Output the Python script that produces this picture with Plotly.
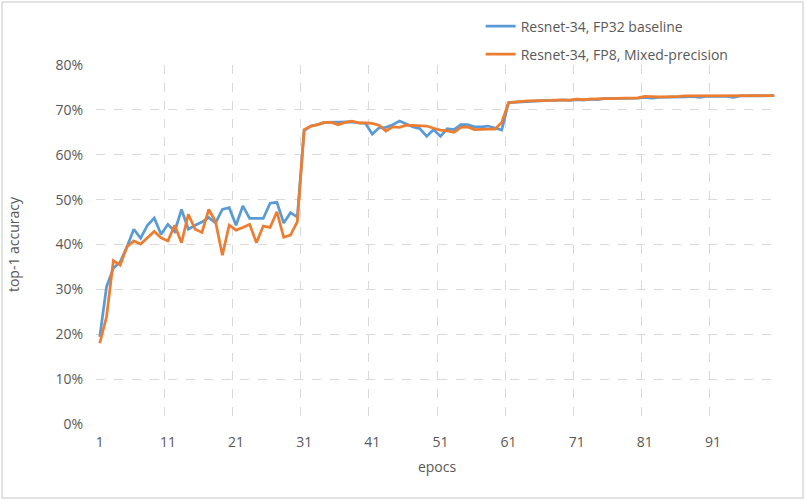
import plotly.graph_objects as go

# =============================================================================
# DATA
# =============================================================================

epochs = list(range(1, 101))
tick_epochs = [1, 11, 21, 31, 41, 51, 61, 71, 81, 91]
grid_epochs = [0.5, 10.5, 20.5, 30.5, 40.5, 50.5, 60.5, 70.5, 80.5, 90.5, 100.5]
y_ticks = [0, 0.1, 0.2, 0.3, 0.4, 0.5, 0.6, 0.7, 0.8]

fp32_acc = [
    19.4, 30.6, 34.7, 36.1, 39.5, 43.4, 41.4, 44.3, 45.9, 42.3,
    44.5, 42.9, 47.8, 43.4, 44.3, 45.0, 46.0, 44.8, 47.8, 48.2,
    44.3, 48.6, 45.8, 45.8, 45.8, 49.2, 49.4, 44.8, 47.1, 46.1,
    65.4, 66.4, 66.7, 67.2, 67.2, 67.2, 67.2, 67.3, 67.1, 67.0,
    64.6, 66.0, 66.1, 66.7, 67.5, 66.8, 66.2, 65.8, 64.1, 65.6,
    64.1, 65.8, 65.6, 66.7, 66.7, 66.2, 66.2, 66.4, 66.0, 65.5,
    71.6, 71.7, 71.8, 71.9, 72.0, 72.0, 72.1, 72.1, 72.2, 72.1,
    72.3, 72.2, 72.4, 72.3, 72.5, 72.5, 72.5, 72.6, 72.5, 72.6,
    72.8, 72.6, 72.8, 72.8, 72.9, 72.8, 72.9, 73.0, 72.8, 73.0,
    73.0, 73.1, 73.0, 72.8, 73.1, 73.1, 73.2, 73.1, 73.2, 73.2,
]

fp8_acc = [
    18.0, 23.9, 36.4, 35.4, 39.5, 40.8, 40.1, 41.4, 42.9, 41.5,
    40.8, 44.3, 40.4, 46.7, 43.4, 42.7, 47.8, 45.1, 37.6, 44.3,
    43.2, 43.8, 44.5, 40.4, 44.1, 43.8, 47.3, 41.6, 42.1, 45.1,
    65.6, 66.4, 66.7, 67.2, 67.2, 66.7, 67.2, 67.5, 67.1, 67.1,
    67.0, 66.6, 65.3, 66.2, 66.1, 66.6, 66.5, 66.4, 66.4, 65.9,
    65.5, 65.3, 65.0, 66.1, 66.2, 65.6, 65.7, 65.7, 65.7, 67.2,
    71.6, 71.8, 71.9, 72.0, 72.0, 72.1, 72.1, 72.2, 72.2, 72.2,
    72.4, 72.3, 72.4, 72.5, 72.5, 72.5, 72.6, 72.6, 72.6, 72.7,
    73.0, 72.9, 72.9, 72.9, 72.9, 73.0, 73.1, 73.1, 73.1, 73.1,
    73.1, 73.1, 73.2, 73.2, 73.2, 73.1, 73.2, 73.2, 73.2, 73.2,
]

# =============================================================================
# FIGURE
# =============================================================================

BLUE = '#5B9BD5'
ORANGE = '#ED7D31'
GRID = '#D9D9D9'
TEXT = '#595959'
FONT = 'Open Sans'

fig = go.Figure()

fig.add_trace(go.Scatter(
    x=epochs, y=[v / 100 for v in fp32_acc],
    mode='lines', name='Resnet-34, FP32 baseline',
    line=dict(color=BLUE, width=2.75),
    legendgroup='fp32',
))
fig.add_trace(go.Scatter(
    x=epochs, y=[v / 100 for v in fp8_acc],
    mode='lines', name='Resnet-34, FP8, Mixed-precision',
    line=dict(color=ORANGE, width=2.75),
    legendgroup='fp8',
))

# invisible trace on a second x axis, only to carry the boundary gridlines
fig.add_trace(go.Scatter(
    x=[grid_epochs[0], grid_epochs[-1]], y=[0, 0],
    xaxis='x2', mode='lines', line=dict(width=0),
    showlegend=False, hoverinfo='skip',
))

fig.update_layout(
    width=806, height=501,
    margin=dict(l=96, r=28, t=65, b=77, autoexpand=False),
    paper_bgcolor='white', plot_bgcolor='white',
    font=dict(family=FONT, size=14, color=TEXT),
    xaxis=dict(
        range=[0.45, 100.55], tickvals=tick_epochs,
        showgrid=False, zeroline=False, showline=False,
        ticks='', ticklen=0, automargin=False, ticklabelstandoff=8,
        tickfont=dict(size=14, color=TEXT),
        title=dict(text='epocs', font=dict(size=14, color=TEXT), standoff=12),
    ),
    xaxis2=dict(
        range=[0.45, 100.55], tickvals=grid_epochs, overlaying='x',
        showticklabels=False, showgrid=True, gridcolor=GRID,
        griddash='dash', gridwidth=1, zeroline=False, showline=False,
    ),
    yaxis=dict(
        range=[0, 0.8], tickvals=y_ticks, tickformat='.0%',
        showgrid=True, gridcolor=GRID, griddash='dash', gridwidth=1,
        zeroline=False, showline=False, ticks='', ticklen=0,
        automargin=False, ticklabelstandoff=12,
        tickfont=dict(size=14, color=TEXT),
        title=dict(text='top-1 accuracy', font=dict(size=14, color=TEXT), standoff=32),
    ),
    legend=dict(
        x=0.564, y=1.152, xanchor='left', yanchor='top',
        bgcolor='rgba(0,0,0,0)', font=dict(size=14, color=TEXT),
        traceorder='grouped', tracegroupgap=7,
    ),
    showlegend=True,
    shapes=[dict(
        type='rect', xref='paper', yref='paper',
        x0=-94 / 682, x1=(682 + 25) / 682, y0=-74 / 359, y1=(359 + 63) / 359,
        line=dict(color='#D9D9D9', width=1.5), fillcolor='rgba(0,0,0,0)',
        layer='below',
    )],
)

# the page body has a default 8px margin; remove it so the figure sits at 0,0
fig.write_html('out.html', config={'displayModeBar': False},
               post_script="document.body.style.margin='0';")
